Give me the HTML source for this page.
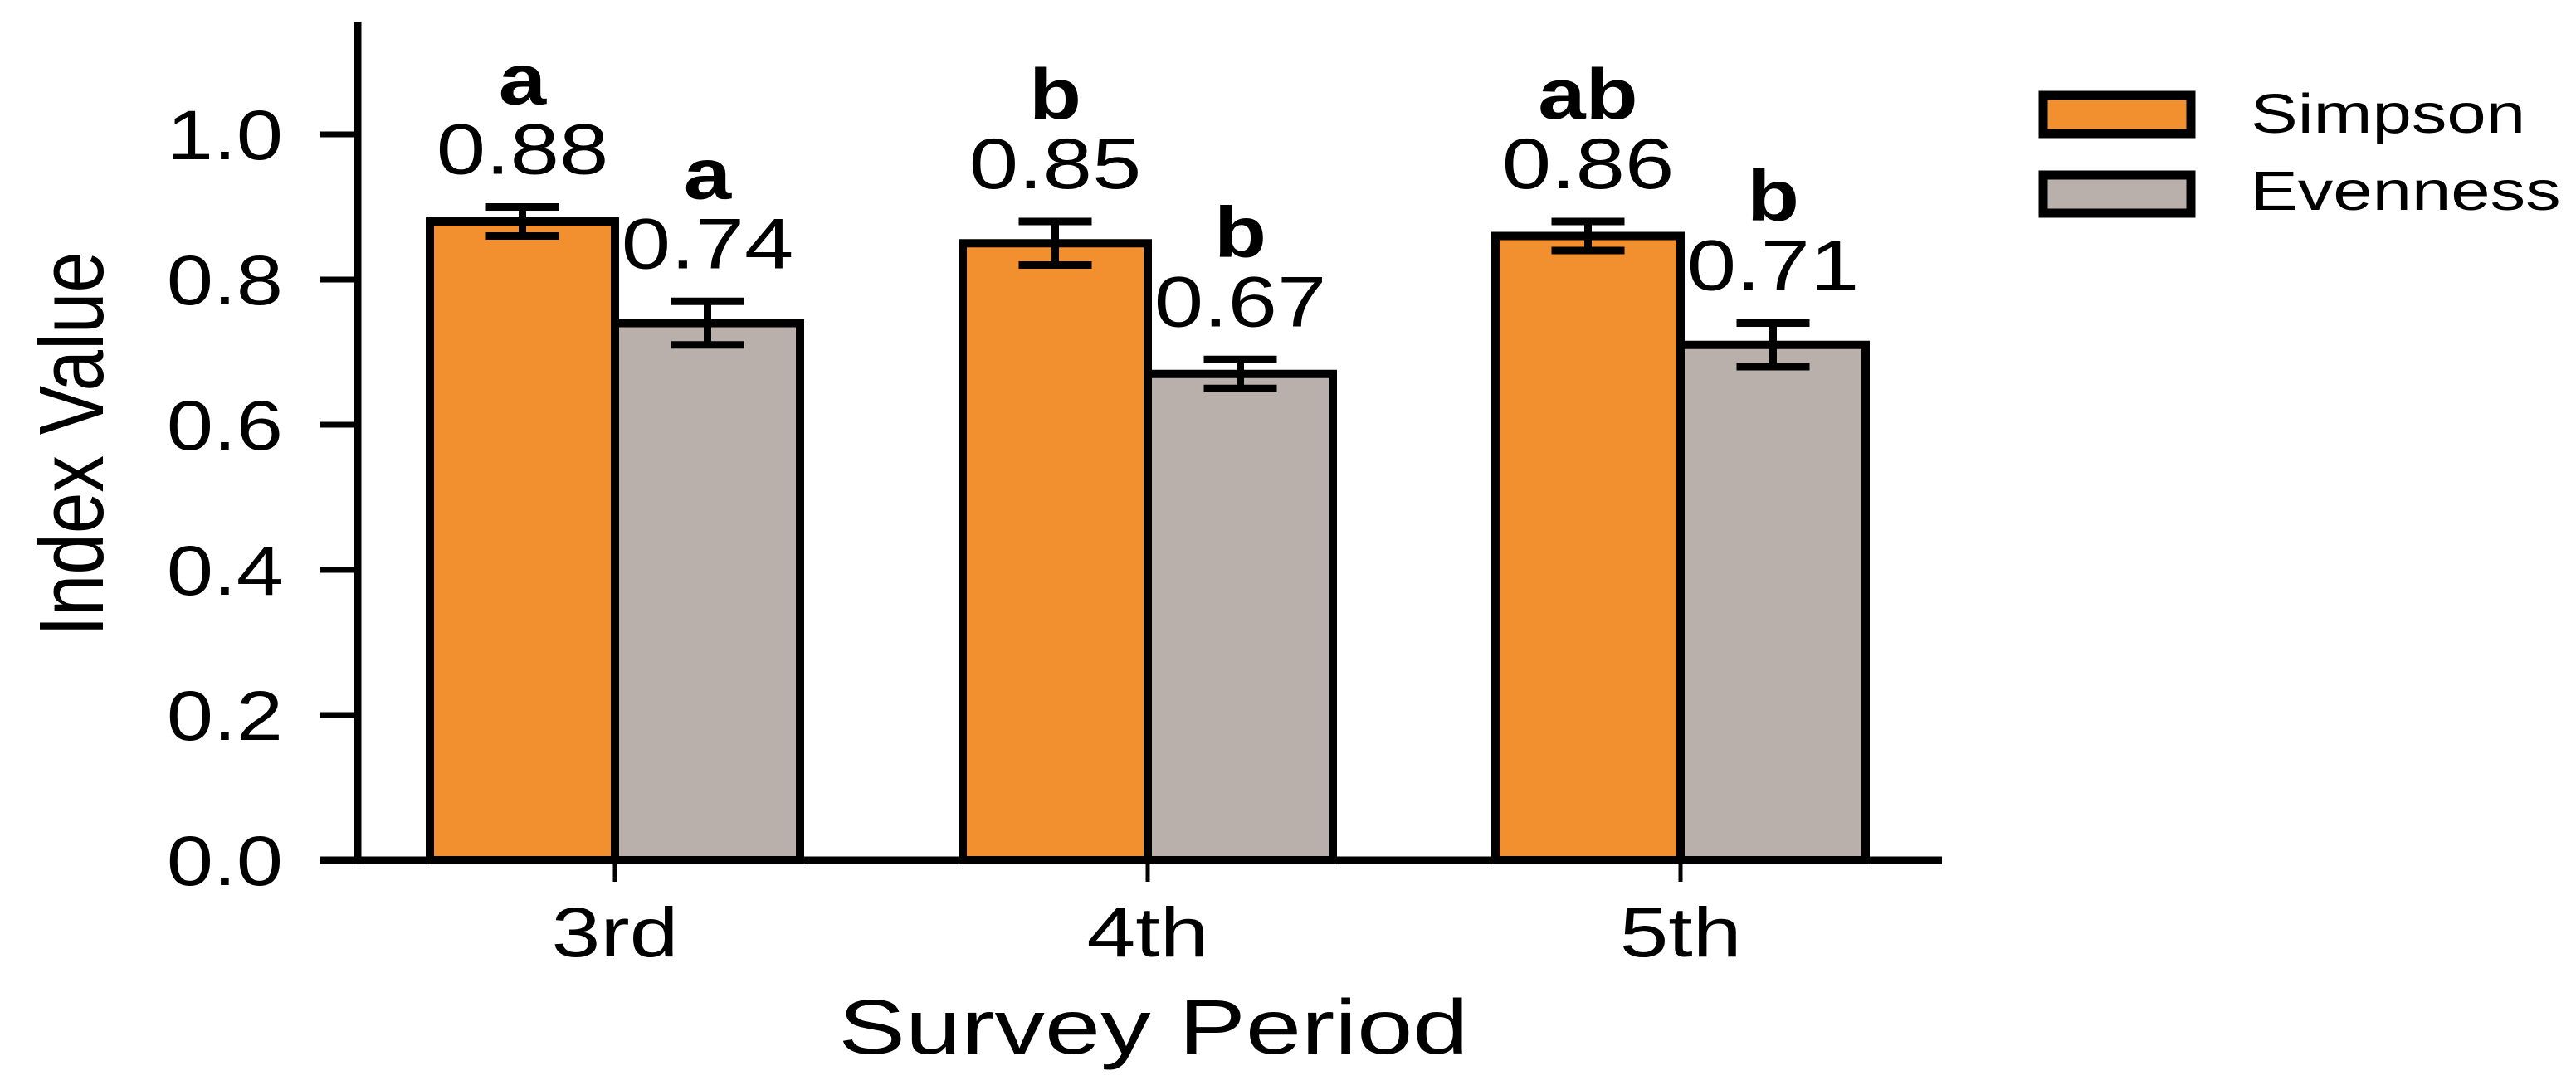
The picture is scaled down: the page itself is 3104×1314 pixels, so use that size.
<!DOCTYPE html>
<html><head><meta charset="utf-8"><style>
html,body{margin:0;padding:0;background:#fff;}
svg{display:block;font-family:"Liberation Sans",Arial,sans-serif;}
</style></head><body>
<svg id="chart" width="3104" height="1314" viewBox="0 0 3104 1314" xmlns="http://www.w3.org/2000/svg"></svg>
<script>
const categories = ["3rd", "4th", "5th"];
const seriesNames = ["Simpson", "Evenness"];
const simpsonValues = [0.88, 0.85, 0.86];
const evennessValues = [0.74, 0.67, 0.71];
const simpsonErrors = [0.02, 0.03, 0.02];
const evennessErrors = [0.03, 0.02, 0.03];
const simpsonLetters = ["a", "b", "ab"];
const evennessLetters = ["a", "b", "b"];
const yTicks = [0.0, 0.2, 0.4, 0.6, 0.8, 1.0];
const yTickLabels = ["0.0", "0.2", "0.4", "0.6", "0.8", "1.0"];

const NS = "http://www.w3.org/2000/svg";
const svg = document.getElementById("chart");
const colors = ["#F28F2E", "#B9B0AB"];
const x0 = 431, baseY = 1037, unit = 875;
const groupCenters0 = 741, groupStep = 642, barW = 223;
function yScale(v){ return baseY - v*unit; }
function xCenter(i){ return groupCenters0 + i*groupStep; }
function mk(tag, attrs){ const e=document.createElementNS(NS,tag); for(const k in attrs) e.setAttribute(k, attrs[k]); svg.appendChild(e); return e; }
function txt(s, x, y, size, sx, anchor, weight){
  const t = mk("text", {transform:`translate(${x},${y}) scale(${sx},1)`, "font-size":size, "text-anchor":anchor||"middle", "font-weight":weight||"normal", fill:"#000"});
  t.textContent = s; return t;
}

const allVals=[simpsonValues, evennessValues], allErr=[simpsonErrors, evennessErrors], allLet=[simpsonLetters, evennessLetters];
for(let s=0;s<2;s++){
  for(let i=0;i<categories.length;i++){
    const v=allVals[s][i], e=allErr[s][i];
    const left = xCenter(i) - barW + s*barW;
    const r = mk("rect",{x:left, y:yScale(v), width:barW, height:baseY-yScale(v), fill:colors[s], stroke:"#000", "stroke-width":10});
    
    
    const cx = left + barW/2;
    const g = mk("path",{d:`M${cx-44},${yScale(v+e)}H${cx+44}M${cx},${yScale(v+e)}V${yScale(v-e)}M${cx-44},${yScale(v-e)}H${cx+44}`, stroke:"#000", "stroke-width":9, fill:"none"});
    
    
    const lbY = yScale(v+e) - 40;
    const lt = txt(v.toFixed(2), cx, lbY, 86, 1.24);
    
    
    const sg = txt(allLet[s][i], cx, lbY - 84, 86, 1.2, "middle", "bold");
    
    
  }
}

const ya = mk("line",{x1:x0, y1:27, x2:x0, y2:baseY+5, stroke:"#000", "stroke-width":9});


const xa = mk("line",{x1:386, y1:baseY, x2:2340, y2:baseY, stroke:"#000", "stroke-width":9});


for(let k=0;k<yTicks.length;k++){
  const y=yScale(yTicks[k]);
  const tl = mk("line",{x1:386, y1:y, x2:x0, y2:y, stroke:"#000", "stroke-width":7});
  
  
  const t = txt(yTickLabels[k], 341, y+30, 84, 1.2, "end");
  
  
}
for(let i=0;i<categories.length;i++){
  const x=xCenter(i);
  const tl = mk("line",{x1:x, y1:baseY, x2:x, y2:1063, stroke:"#000", "stroke-width":5});
  
  
  const t = txt(categories[i], x, 1153, 84, 1.26);
  
  
}
const xt = txt("Survey Period", 1390, 1270, 93, 1.3);


const yt = mk("text",{transform:"translate(124,535) rotate(-90) scale(0.81,1)", "font-size":110, "text-anchor":"middle", fill:"#000"});
yt.textContent = "Index Value";



const legY=[110, 206], legTextY=[160, 253];
for(let s=0;s<2;s++){
  const r = mk("rect",{x:2462, y:legY[s]+5, width:178, height:46, fill:colors[s], stroke:"#000", "stroke-width":11});
  
  
  const t = txt(seriesNames[s], 2712, legTextY[s], 67, 1.27, "start");
  
  
}
</script>
</body></html>
